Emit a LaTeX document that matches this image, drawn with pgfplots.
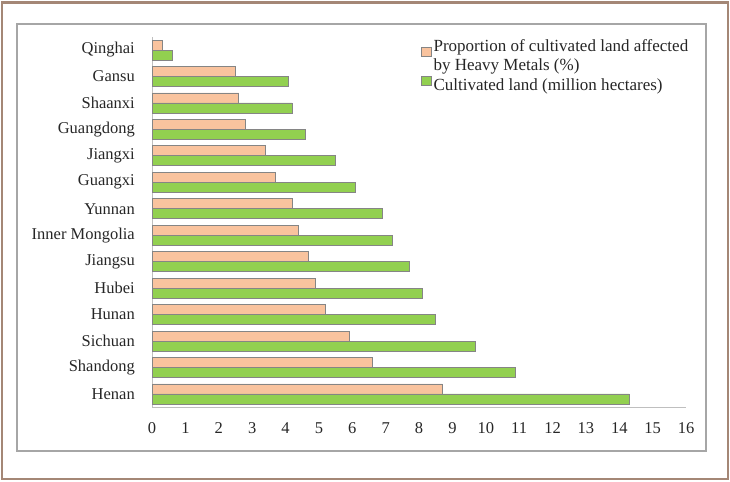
\documentclass[border=0pt]{standalone}
\usepackage{pgfplots}
\pgfplotsset{compat=1.18}
\usepackage{fontspec}
\setmainfont{Liberation Serif}
\definecolor{barorange}{HTML}{F9C39E}
\definecolor{bargreen}{HTML}{92D050}
\definecolor{baredge}{HTML}{858585}
\definecolor{framebrown}{HTML}{A48776}
\definecolor{framegray}{HTML}{A6A6A6}
\definecolor{txt}{HTML}{262626}
\begin{document}
\begin{tikzpicture}[x=1bp,y=1bp]
\path[use as bounding box] (0,0) rectangle (730,482);
\draw[framebrown, line width=2.2bp] (2,3) rectangle (728,479.5);
\draw[framegray, line width=1.2bp] (17,31) rectangle (706,458);
\begin{axis}[
  at={(152bp,74.8bp)}, anchor=south west,
  scale only axis, width=534bp, height=370.4bp,
  xmin=0, xmax=16, ymin=-0.5, ymax=13.5,
  xtick={0,1,...,16}, ytick={0,1,...,13},
  yticklabels={Henan,Shandong,Sichuan,Hunan,Hubei,Jiangsu,Inner Mongolia,Yunnan,Guangxi,Jiangxi,Guangdong,Shaanxi,Gansu,Qinghai},
  axis x line*=bottom, axis y line*=left,
  axis line style={draw=gray!50, line width=0.8bp, -},
  major tick length=0pt,
  /pgf/number format/assume math mode=true,
  tick label style={font=\fontsize{16.5bp}{19bp}\selectfont, text=txt},
  yticklabel style={inner sep=0pt, anchor=east, xshift=-17bp},
  xticklabel style={inner sep=0pt, anchor=north, yshift=-15bp},
  xbar, bar width=10bp,
  legend style={at={(0.503,0.998)}, anchor=north west, draw=none, fill=none, inner sep=0pt,
    font=\fontsize{17bp}{19bp}\selectfont, text=txt, row sep=2bp,
    cells={anchor=west, align=left}},
  legend image code/.code={\draw[#1] (0bp,-0.5bp) rectangle (10bp,8.5bp);},
]
\addplot[draw=baredge, fill=barorange, line width=0.8bp, bar shift=5bp] coordinates {
(8.7,0) (6.6,1) (5.9,2) (5.2,3) (4.9,4) (4.7,5) (4.4,6) (4.2,7) (3.7,8) (3.4,9) (2.8,10) (2.6,11) (2.5,12) (0.3,13)};
\addlegendentry{Proportion of cultivated land affected\\by Heavy Metals (\%)}
\addplot[draw=baredge, fill=bargreen, line width=0.8bp, bar shift=-5bp] coordinates {
(14.3,0) (10.9,1) (9.7,2) (8.5,3) (8.1,4) (7.7,5) (7.2,6) (6.9,7) (6.1,8) (5.5,9) (4.6,10) (4.2,11) (4.1,12) (0.6,13)};
\addlegendentry{Cultivated land (million hectares)}
\end{axis}
\end{tikzpicture}
\end{document}
